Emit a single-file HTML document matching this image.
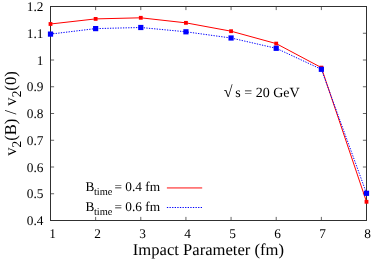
<!DOCTYPE html>
<html><head><meta charset="utf-8">
<style>
html,body{margin:0;padding:0;background:#fff;}
body{width:374px;height:262px;overflow:hidden;}
svg{display:block;will-change:transform;}
text{font-family:"Liberation Serif",serif;fill:#000;text-rendering:geometricPrecision;font-kerning:none;}
</style></head><body>
<svg width="374" height="262" viewBox="0 0 374 262">
<rect width="374" height="262" fill="#fff"/>
<g stroke="#303030" stroke-width="0.75" fill="none">
<path d="M50.5 6.50h3.6M366.5 6.50h-3.6"/>
<path d="M50.5 33.25h3.6M366.5 33.25h-3.6"/>
<path d="M50.5 60.00h3.6M366.5 60.00h-3.6"/>
<path d="M50.5 86.75h3.6M366.5 86.75h-3.6"/>
<path d="M50.5 113.50h3.6M366.5 113.50h-3.6"/>
<path d="M50.5 140.25h3.6M366.5 140.25h-3.6"/>
<path d="M50.5 167.00h3.6M366.5 167.00h-3.6"/>
<path d="M50.5 193.75h3.6M366.5 193.75h-3.6"/>
<path d="M50.5 220.50h3.6M366.5 220.50h-3.6"/>
<path d="M50.50 220.5v-3.6M50.50 6.5v3.6"/>
<path d="M95.64 220.5v-3.6M95.64 6.5v3.6"/>
<path d="M140.79 220.5v-3.6M140.79 6.5v3.6"/>
<path d="M185.93 220.5v-3.6M185.93 6.5v3.6"/>
<path d="M231.07 220.5v-3.6M231.07 6.5v3.6"/>
<path d="M276.21 220.5v-3.6M276.21 6.5v3.6"/>
<path d="M321.36 220.5v-3.6M321.36 6.5v3.6"/>
<path d="M366.50 220.5v-3.6M366.50 6.5v3.6"/>
</g>
<g font-size="13.33" text-anchor="end">
<text x="43.5" y="11.00">1.2</text>
<text x="43.5" y="37.75">1.1</text>
<text x="43.5" y="64.50">1</text>
<text x="43.5" y="91.25">0.9</text>
<text x="43.5" y="118.00">0.8</text>
<text x="43.5" y="144.75">0.7</text>
<text x="43.5" y="171.50">0.6</text>
<text x="43.5" y="198.25">0.5</text>
<text x="43.5" y="225.00">0.4</text>
</g>
<g font-size="13.33" text-anchor="middle">
<text x="52.50" y="238.1">1</text>
<text x="97.53" y="238.1">2</text>
<text x="142.56" y="238.1">3</text>
<text x="187.59" y="238.1">4</text>
<text x="232.61" y="238.1">5</text>
<text x="277.64" y="238.1">6</text>
<text x="322.67" y="238.1">7</text>
<text x="367.70" y="238.1">8</text>
</g>
<text id="xl" x="208.4" y="254.7" font-size="16.6" text-anchor="middle">Impact Parameter (fm)</text>
<text id="yl" transform="translate(16.2,113.5) rotate(-90)" font-size="16.67" text-anchor="middle">v<tspan font-size="13.34" dy="5">2</tspan><tspan dy="-5">(B) / v</tspan><tspan font-size="13.34" dy="5">2</tspan><tspan dy="-5">(0)</tspan></text>
<text x="223.7" y="96.6" font-size="16">&#8730;</text>
<text id="an" x="235.3" y="96.8" font-size="14">s = 20 GeV</text>
<text font-size="13.33"><tspan x="85.5" y="190.8">B</tspan><tspan x="93.9" y="194.8" font-size="10.4">time</tspan><tspan x="114.4" y="190.8">= 0.4 fm</tspan></text>
<text font-size="13.33"><tspan x="85.5" y="210.8">B</tspan><tspan x="93.9" y="214.8" font-size="10.4">time</tspan><tspan x="114.4" y="210.8">= 0.6 fm</tspan></text>
<path d="M166.9 187.95H202.2" stroke="#ff0000" stroke-width="0.95" fill="none"/>
<path d="M166.9 207.5H202.2" stroke="#0000ff" stroke-width="1" stroke-dasharray="1.3 1.3" fill="none"/>
<rect x="50.5" y="6.5" width="316.0" height="214.0" fill="none" stroke="#303030" stroke-width="1"/>
<polyline points="50.50,24.0 95.64,18.9 140.79,17.8 185.93,22.85 231.07,31.2 276.21,43.6 321.36,67.6 366.50,201.8" fill="none" stroke="#ff0000" stroke-width="1.0"/>
<rect x="48.60" y="22.10" width="3.8" height="3.8" fill="#ff0000"/>
<rect x="93.74" y="17.00" width="3.8" height="3.8" fill="#ff0000"/>
<rect x="138.89" y="15.90" width="3.8" height="3.8" fill="#ff0000"/>
<rect x="184.03" y="20.95" width="3.8" height="3.8" fill="#ff0000"/>
<rect x="229.17" y="29.30" width="3.8" height="3.8" fill="#ff0000"/>
<rect x="274.31" y="41.70" width="3.8" height="3.8" fill="#ff0000"/>
<rect x="319.46" y="65.70" width="3.8" height="3.8" fill="#ff0000"/>
<rect x="364.60" y="199.90" width="3.8" height="3.8" fill="#ff0000"/>
<polyline points="50.50,34.1 95.64,28.6 140.79,27.5 185.93,31.8 231.07,38.0 276.21,48.3 321.36,69.3 366.50,193.3" fill="none" stroke="#0000ff" stroke-width="1.0" stroke-dasharray="1.3 1.3"/>
<rect x="47.90" y="31.50" width="5.2" height="5.2" fill="#0000ff"/>
<rect x="93.04" y="26.00" width="5.2" height="5.2" fill="#0000ff"/>
<rect x="138.19" y="24.90" width="5.2" height="5.2" fill="#0000ff"/>
<rect x="183.33" y="29.20" width="5.2" height="5.2" fill="#0000ff"/>
<rect x="228.47" y="35.40" width="5.2" height="5.2" fill="#0000ff"/>
<rect x="273.61" y="45.70" width="5.2" height="5.2" fill="#0000ff"/>
<rect x="318.76" y="66.70" width="5.2" height="5.2" fill="#0000ff"/>
<rect x="363.90" y="190.70" width="5.2" height="5.2" fill="#0000ff"/>
</svg>
</body></html>
